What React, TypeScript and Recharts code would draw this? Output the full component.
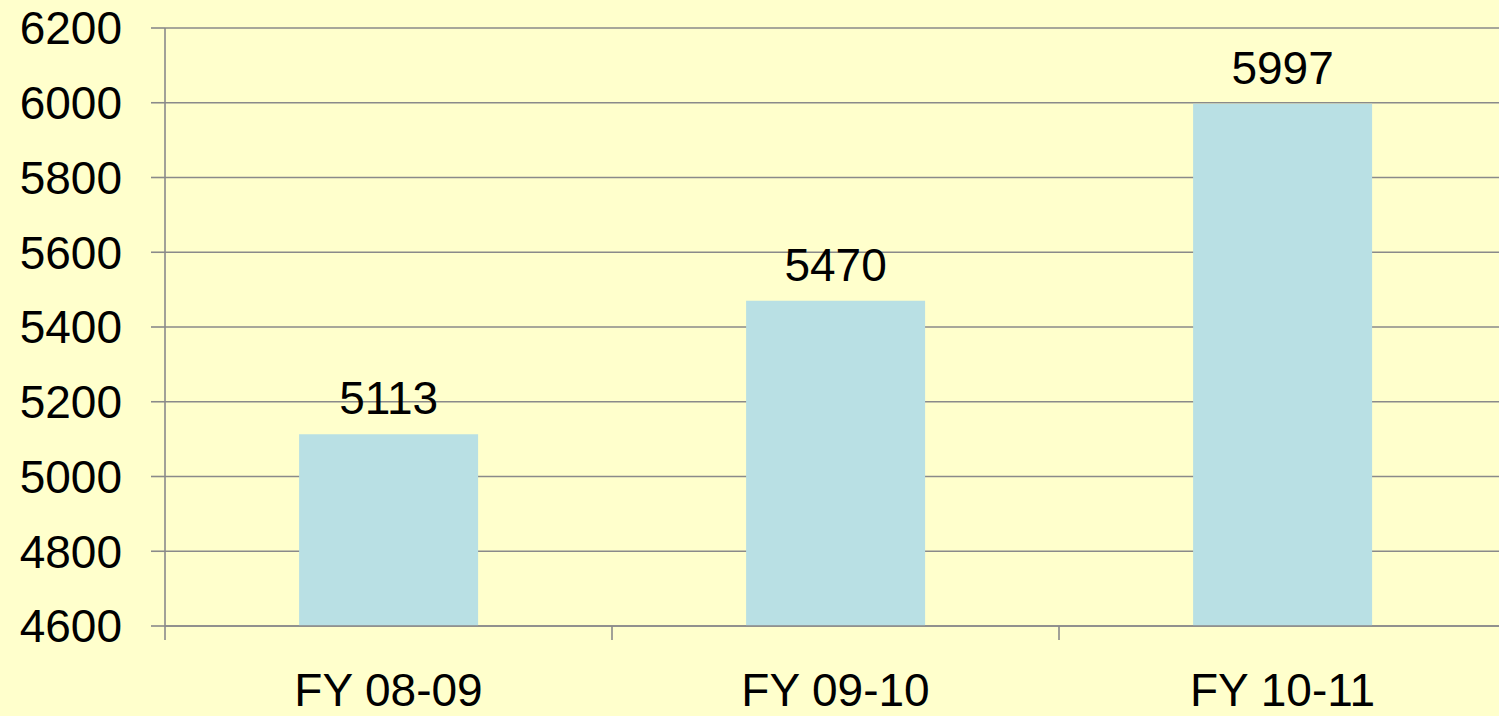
import React from 'react';
import { BarChart, Bar, XAxis, YAxis, CartesianGrid, LabelList } from 'recharts';

const categories = ['FY 08-09', 'FY 09-10', 'FY 10-11'];
const values = [5113, 5470, 5997];
const yTicks = [4600, 4800, 5000, 5200, 5400, 5600, 5800, 6000, 6200];

const data = categories.map((name, i) => ({ name, value: values[i] }));

const CHART_W = 1510;
const CHART_H = 760;
const MARGIN = { top: 28, right: 4, left: 0, bottom: 0 };
const Y_AXIS_W = 165;
const BAND = (CHART_W - MARGIN.left - MARGIN.right - Y_AXIS_W) / categories.length;

const FONT = '"Liberation Sans", Arial, sans-serif';
const GRID = '#8a8a8a';

// category labels centred in the band, tick marks on band edges
const XTick = (props: any) => {
  const { x, y, payload, index } = props;
  const left = x - BAND / 2;
  const right = x + BAND / 2;
  return (
    <g>
      <line x1={left} x2={left} y1={y} y2={y + 14} stroke={GRID} strokeWidth={1.6} />
      {index === categories.length - 1 && (
        <line x1={right} x2={right} y1={y} y2={y + 14} stroke={GRID} strokeWidth={1.6} />
      )}
      <text x={x} y={y + 80} textAnchor="middle" fontSize={46} fontFamily={FONT} fill="#000">
        {payload.value}
      </text>
    </g>
  );
};

export default function App() {
  return (
    <div
      style={{
        position: 'absolute',
        left: 0,
        top: 0,
        width: 1499,
        height: 716,
        overflow: 'hidden',
        background: '#ffffcc',
      }}
    >
      <BarChart width={CHART_W} height={CHART_H} data={data} margin={MARGIN} barCategoryGap="30%">
        <CartesianGrid vertical={false} stroke={GRID} strokeWidth={1.6} />
        <XAxis
          dataKey="name"
          height={CHART_H - MARGIN.top - 598}
          axisLine={{ stroke: GRID, strokeWidth: 1.6 }}
          tickLine={false}
          tickSize={0}
          tickMargin={0}
          tick={<XTick />}
          interval={0}
        />
        <YAxis
          width={Y_AXIS_W}
          domain={[4600, 6200]}
          ticks={yTicks}
          interval={0}
          axisLine={{ stroke: GRID, strokeWidth: 1.6 }}
          tickLine={{ stroke: GRID, strokeWidth: 1.6 }}
          tickSize={14}
          tickMargin={29}
          tick={{ fontSize: 46, fontFamily: FONT, fill: '#000' }}
        />
        <Bar dataKey="value" fill="#b9e0e4" isAnimationActive={false}>
          <LabelList
            dataKey="value"
            position="top"
            offset={20}
            style={{ fontSize: 46, fontFamily: FONT, fill: '#000' }}
          />
        </Bar>
      </BarChart>
    </div>
  );
}
